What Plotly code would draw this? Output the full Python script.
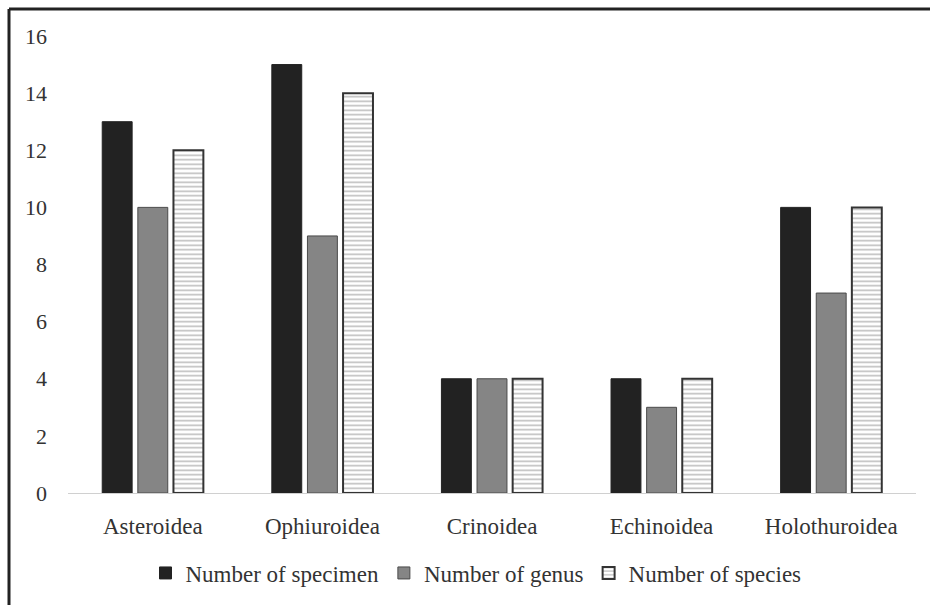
import plotly.graph_objects as go

categories = ["Asteroidea", "Ophiuroidea", "Crinoidea", "Echinoidea", "Holothuroidea"]
specimen = [13, 15, 4, 4, 10]
genus = [10, 9, 4, 3, 7]
species = [12, 14, 4, 4, 10]
y_ticks = [0, 2, 4, 6, 8, 10, 12, 14, 16]

FONT = "Liberation Serif, Times New Roman, serif"

fig = go.Figure()
fig.add_trace(go.Bar(
    x=categories, y=specimen, name="Number of specimen",
    marker=dict(color="#222222", line=dict(color="#222222", width=1)),
))
fig.add_trace(go.Bar(
    x=categories, y=genus, name="Number of genus",
    marker=dict(color="#858585", line=dict(color="#4a4a4a", width=1)),
))
fig.add_trace(go.Bar(
    x=categories, y=species, name="Number of species",
    marker=dict(color="white", line=dict(color="#333333", width=2),
                pattern=dict(shape="-", fgcolor="#7a7a7a", bgcolor="white",
                             size=4.5, solidity=0.35)),
))

L, R, T, B = 68, 14, 36, 111
W, H = 930, 605
pw = W - L - R
ph = H - T - B

def px(x):
    return (x - L) / pw

def py(y):
    return (H - B - y) / ph

fig.update_layout(
    width=W, height=H,
    margin=dict(l=L, r=R, t=T, b=B),
    paper_bgcolor="white", plot_bgcolor="white",
    barmode="group", bargap=0.37, bargroupgap=0.16,
    font=dict(family=FONT, size=23, color="#333333"),
    showlegend=True,
    legend=dict(orientation="h", x=px(476), xanchor="center", y=py(573), yanchor="middle",
                font=dict(family=FONT, size=23, color="#333333"),
                itemwidth=30, traceorder="normal"),
    xaxis=dict(showgrid=False, showline=True, linecolor="#d0d0d0", linewidth=1,
               ticks="", ticklabelstandoff=12, tickfont=dict(size=23)),
    yaxis=dict(range=[0, 16], tickvals=y_ticks, showgrid=False, zeroline=False,
               showline=False, ticks="", ticklabelstandoff=20, tickfont=dict(size=22)),
    shapes=[
        dict(type="line", xref="paper", yref="paper", x0=px(9), x1=px(W + 5),
             y0=py(9), y1=py(9), line=dict(color="#222222", width=3)),
        dict(type="line", xref="paper", yref="paper", x0=px(9), x1=px(9),
             y0=py(9), y1=py(H + 5), line=dict(color="#222222", width=3)),
    ],
)

fig.write_html(
    "out.html",
    config={"displayModeBar": False},
    post_script="document.body.style.margin='0';document.body.style.overflow='hidden';",
)
